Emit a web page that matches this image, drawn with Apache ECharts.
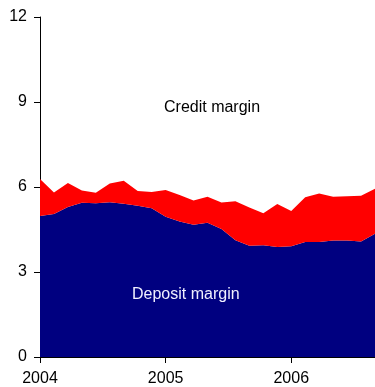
<!DOCTYPE html>
<html>
<head>
<meta charset="utf-8">
<script src="https://cdn.jsdelivr.net/npm/echarts@6/dist/echarts.min.js"></script>
<style>html,body{margin:0;padding:0;background:#fff}#c{width:375px;height:387px}</style>
</head>
<body>
<div id="c"></div>
<script>
// Periods (roughly 9 observations per year starting 2004)
const periods = ['p0','p1','p2','p3','p4','p5','p6','p7','p8','p9','p10','p11','p12','p13','p14','p15','p16','p17','p18','p19','p20','p21','p22','p23','p24'];
const depositMargin = [4.98,5.05,5.29,5.44,5.43,5.46,5.41,5.34,5.25,4.95,4.78,4.67,4.74,4.52,4.12,3.93,3.94,3.88,3.91,4.06,4.06,4.11,4.11,4.08,4.35];
const creditMargin  = [1.30,0.76,0.85,0.44,0.37,0.66,0.81,0.52,0.57,0.94,0.94,0.85,0.92,0.93,1.38,1.35,1.13,1.52,1.24,1.58,1.71,1.55,1.56,1.61,1.59];
const yearLabels = ['2004','2005','2006'];
const yTicks = [0,3,6,9,12];

const chart = echarts.init(document.getElementById('c'));
const font = 'Liberation Sans, Arial, sans-serif';
const isYear = i => i % 9 === 0 && yearLabels[i / 9] !== undefined;
chart.setOption({
  animation: false,
  grid: {left: 40, right: -4, top: 17, bottom: 30},
  xAxis: {
    type: 'category', data: periods, boundaryGap: false,
    splitLine: {show: false},
    axisLine: {show: true, lineStyle: {color: '#000', width: 1}},
    axisTick: {show: true, length: 6, interval: (i) => isYear(i), lineStyle: {color: '#000'}},
    axisLabel: {
      color: '#000', fontSize: 16, fontFamily: font, margin: 14,
      interval: (i) => isYear(i),
      formatter: (v, i) => isYear(i) ? yearLabels[i / 9] : ''
    }
  },
  yAxis: {
    type: 'value', min: yTicks[0], max: yTicks[yTicks.length-1], interval: 3,
    splitLine: {show: false},
    axisLine: {show: true, lineStyle: {color: '#000', width: 1}},
    axisTick: {show: true, length: 6, lineStyle: {color: '#000'}},
    axisLabel: {color: '#000', fontSize: 16, fontFamily: font, margin: 13}
  },
  series: [
    {
      name: 'Deposit margin', type: 'line', stack: 'm', symbol: 'none',
      lineStyle: {width: 0}, areaStyle: {color: '#000080', opacity: 1},
      data: depositMargin, z: 1
    },
    {
      name: 'Credit margin', type: 'line', stack: 'm', symbol: 'none',
      lineStyle: {width: 0}, areaStyle: {color: '#ff0000', opacity: 1},
      data: creditMargin, z: 1
    }
  ],
  graphic: [
    {type: 'text', left: 164, top: 100, z: 10, style: {text: 'Credit margin', fill: '#000', font: '16px ' + font}},
    {type: 'text', left: 132, top: 287, z: 10, style: {text: 'Deposit margin', fill: '#f0f0ff', font: '16px ' + font}}
  ]
});
</script>
</body>
</html>
